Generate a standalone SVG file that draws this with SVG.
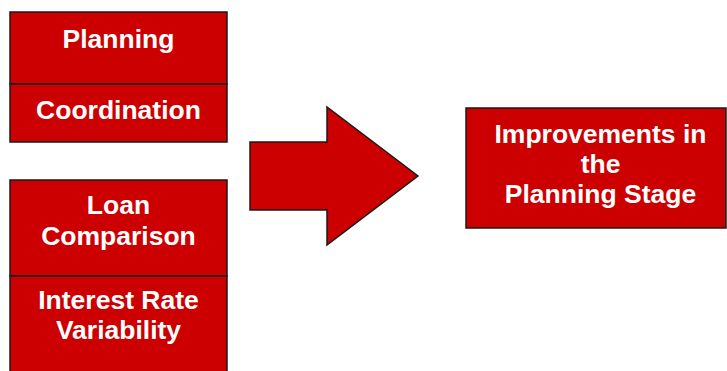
<svg xmlns="http://www.w3.org/2000/svg" width="727" height="371" viewBox="0 0 727 371">
<style>
.box{fill:#cc0000;stroke:#1a1a1a;stroke-width:1.5}
.t{fill:#fff;font-family:"Liberation Sans",Arial,sans-serif;font-weight:bold;font-size:26.5px;text-anchor:middle}
</style>
<rect width="727" height="371" fill="#fff"/>
<g id="planning"><rect class="box" x="10" y="12" width="217" height="72"/><text class="t" x="118.5" y="48">Planning</text></g>
<g id="coordination"><rect class="box" x="10" y="84" width="217" height="58"/><text class="t" x="118.5" y="119">Coordination</text></g>
<g id="loan"><rect class="box" x="10" y="180" width="217" height="96"/><text class="t" x="118.5" y="214">Loan</text><text class="t" x="118.5" y="245">Comparison</text></g>
<g id="interest"><rect class="box" x="10" y="276" width="217" height="110"/><text class="t" x="118.5" y="309">Interest Rate</text><text class="t" x="118.5" y="339">Variability</text></g>
<g id="connectors"><polygon class="box" points="250,142 327,142 327,107 418,176 327,245 327,210 250,210"/></g>
<g id="improvements"><rect class="box" x="466" y="108" width="260" height="120"/><text class="t" x="600.5" y="143">Improvements in</text><text class="t" x="600.5" y="173">the</text><text class="t" x="600.5" y="203">Planning Stage</text></g>
</svg>
